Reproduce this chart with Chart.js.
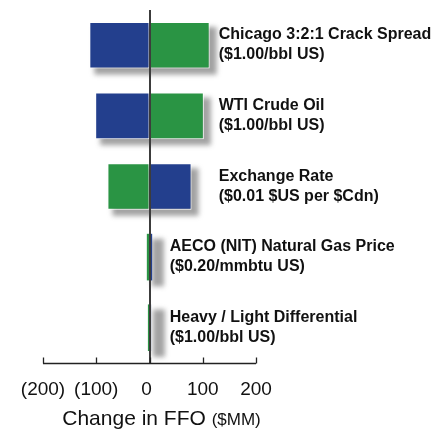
<!DOCTYPE html>
<html><head><meta charset="utf-8">
<script src="https://cdn.jsdelivr.net/npm/chart.js@4"></script>
<style>html,body{margin:0;padding:0;background:#fff}#wrap{width:435px;height:431px;position:relative}</style>
</head><body><div id="wrap"><canvas id="c"></canvas></div>
<script>
const categories = [
  ["Chicago 3:2:1 Crack Spread", "($1.00/bbl US)"],
  ["WTI Crude Oil", "($1.00/bbl US)"],
  ["Exchange Rate", "($0.01 $US per $Cdn)"],
  ["AECO (NIT) Natural Gas Price", "($0.20/mmbtu US)"],
  ["Heavy / Light Differential", "($1.00/bbl US)"]
];
const blueValues = [-113, -102, 79, 5, 3];
const greenValues = [113, 102, -79, -5, -3];
const labelAnchorValues = [130, 130, 130, 38, 38];
const tickValues = [-200, -100, 0, 100, 200];
const tickLabels = ["(200)", "(100)", "0", "100", "200"];
const axisTitleMain = "Change in FFO ";
const axisTitleUnit = "($MM)";
const FONT = '"Liberation Sans", Arial, sans-serif';

const shadowPlugin = {
  id: 'shadow',
  beforeDatasetsDraw(chart) {
    const ctx = chart.ctx;
    const m0 = chart.getDatasetMeta(0).data, m1 = chart.getDatasetMeta(1).data;
    ctx.save();
    ctx.fillStyle = 'rgba(70,70,70,0.5)';
    ctx.filter = 'blur(2.5px)';
    m0.forEach((b0, i) => {
      const b1 = m1[i];
      const l = Math.min(b0.x, b0.base, b1.x, b1.base);
      const r = Math.max(b0.x, b0.base, b1.x, b1.base);
      const t = b0.y - b0.height / 2;
      const w = Math.max(r - l, 10);
      ctx.fillRect(l + 5, t + 5, w + 2, b0.height + 1);
    });
    ctx.restore();
  },
  afterDatasetsDraw(chart) {
    const ctx = chart.ctx, xs = chart.scales.x, a = chart.chartArea;
    const x0 = Math.round(xs.getPixelForValue(0));
    ctx.save();
    ctx.strokeStyle = '#3c3c3c';
    ctx.lineWidth = 2;
    ctx.beginPath(); ctx.moveTo(x0, a.top); ctx.lineTo(x0, a.bottom); ctx.stroke();
    const yb = Math.round(a.bottom) + 0.5;
    ctx.strokeStyle = '#222';
    ctx.lineWidth = 1.3;
    ctx.beginPath();
    ctx.moveTo(xs.getPixelForValue(tickValues[0]), yb);
    ctx.lineTo(xs.getPixelForValue(tickValues[tickValues.length - 1]), yb);
    tickValues.forEach(v => {
      const px = Math.round(xs.getPixelForValue(v)) + 0.5;
      ctx.moveTo(px, yb); ctx.lineTo(px, yb - 6);
    });
    ctx.stroke();
    ctx.restore();
  }
};

const labelPlugin = {
  id: 'catLabels',
  afterDraw(chart) {
    const ctx = chart.ctx, xs = chart.scales.x, ys = chart.scales.y, a = chart.chartArea;
    ctx.save();
    ctx.fillStyle = '#111';
    ctx.font = 'bold 16px ' + FONT;
    ctx.textBaseline = 'alphabetic';
    ctx.textAlign = 'left';
    categories.forEach((lines, i) => {
      const x = xs.getPixelForValue(labelAnchorValues[i]);
      const y = ys.getPixelForValue(i);
      ctx.fillText(lines[0], x, y - 6);
      ctx.fillText(lines[1], x, y + 14);
    });
    ctx.font = '19px ' + FONT;
    ctx.textAlign = 'center';
    tickValues.forEach((v, i) => {
      ctx.fillText(tickLabels[i], xs.getPixelForValue(v) - (v === 0 ? 3 : 0), a.bottom + 32);
    });
    ctx.textAlign = 'left';
    ctx.font = '21px ' + FONT;
    const w1 = ctx.measureText(axisTitleMain).width;
    ctx.font = '17px ' + FONT;
    const w2 = ctx.measureText(axisTitleUnit).width;
    const cx = xs.getPixelForValue(0) + 12;
    const start = cx - (w1 + w2) / 2;
    ctx.font = '21px ' + FONT;
    ctx.fillText(axisTitleMain, start, a.bottom + 62);
    ctx.font = '17px ' + FONT;
    ctx.fillText(axisTitleUnit, start + w1, a.bottom + 62);
    ctx.restore();
  }
};

new Chart(document.getElementById('c'), {
  type: 'bar',
  data: {
    labels: categories.map(c => c[0]),
    datasets: [
      { label: 'blue', data: blueValues, backgroundColor: '#233F8D', borderColor: '#ffffff',
        borderWidth: ctx => Math.abs(ctx.raw) > 10 ? 1 : 0, borderSkipped: false },
      { label: 'green', data: greenValues, backgroundColor: '#2A9444', borderColor: '#ffffff',
        borderWidth: ctx => Math.abs(ctx.raw) > 10 ? 1 : 0, borderSkipped: false }
    ]
  },
  options: {
    indexAxis: 'y',
    responsive: true,
    maintainAspectRatio: false,
    animation: false,
    layout: { padding: { left: 43, right: 179, top: 10, bottom: 68 } },
    plugins: { legend: { display: false }, tooltip: { enabled: false } },
    datasets: { bar: { categoryPercentage: 1, barPercentage: 0.66 } },
    scales: {
      y: { display: false, stacked: true, offset: true },
      x: { display: false, stacked: true, min: -200, max: 200 }
    }
  },
  plugins: [shadowPlugin, labelPlugin]
});
</script>
</body></html>
